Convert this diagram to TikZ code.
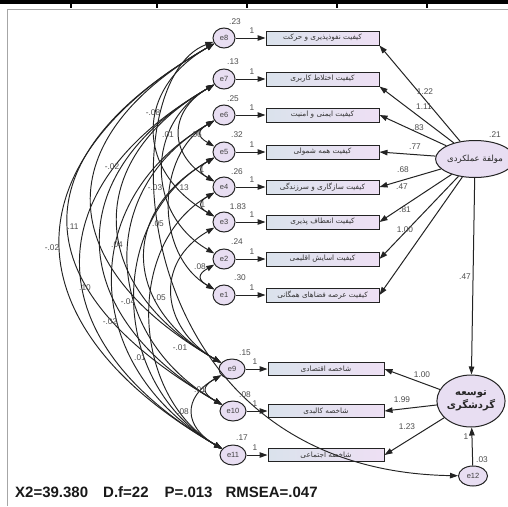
\documentclass[tikz,border=0pt]{standalone}
\usepackage{fontspec}
\setmainfont{Liberation Sans}
\newfontfamily\fa[Script=Arabic]{DejaVu Sans}
\TeXXeTstate=1
\usetikzlibrary{arrows.meta,shapes.geometric}
\definecolor{evfill}{RGB}{232,222,242}
\definecolor{boxL}{RGB}{218,226,236}
\definecolor{boxR}{RGB}{238,224,244}
\definecolor{ink}{RGB}{35,35,35}
\newcommand{\fatxt}[1]{{\fa\beginR #1\endR}}
\begin{document}
\begin{tikzpicture}[x=1pt,y=1pt,
  err/.style={ellipse, draw=ink, fill=evfill, line width=1pt, minimum width=22pt, minimum height=20pt, inner sep=0pt, font=\fontsize{7.5}{8}\selectfont, text=black!75},
  indbox/.style={rectangle, draw=ink, line width=1pt, left color=boxL, right color=boxR, minimum width=113pt, minimum height=14pt, inner sep=0pt, font=\fa\fontsize{7.3}{8}\selectfont, text=black!80},
  lat/.style={ellipse, draw=ink, fill=evfill, line width=1pt, inner sep=0pt, text=black!85},
  lbl/.style={font=\fontsize{8.3}{9}\selectfont, text=black!70, inner sep=0pt},
  arr/.style={-{Triangle[length=8pt,width=5.5pt]}, line width=1pt, draw=ink},
  cov/.style={{Triangle[length=8pt,width=5.5pt]}-{Triangle[length=8pt,width=5.5pt]}, line width=0.95pt, draw=ink}
]
\useasboundingbox (0,0) rectangle (508,-506);
% frame
\fill[black] (0,0) rectangle (508,-3.5);
\foreach \xx in {71,157,247,337,427} {\fill[black] (\xx-1.3,0) rectangle (\xx+1.3,-8);}
\draw[gray!70, line width=0.9pt] (508,-9.5) -- (7,-9.5) -- (7,-506);

% error terms
\node[err] (e8) at (224,-38) {e8};
\node[err] (e7) at (224,-79) {e7};
\node[err] (e6) at (224,-115) {e6};
\node[err] (e5) at (224,-152) {e5};
\node[err] (e4) at (224,-187) {e4};
\node[err] (e3) at (224,-222) {e3};
\node[err] (e2) at (224,-259) {e2};
\node[err] (e1) at (224,-295) {e1};
\node[err, minimum width=26pt] (e9) at (232,-369) {e9};
\node[err, minimum width=26pt] (e10) at (233,-411) {e10};
\node[err, minimum width=26pt] (e11) at (233,-455) {e11};
\node[err, minimum width=29pt] (e12) at (473,-476) {e12};

% indicator boxes
\node[indbox] (b8) at (322.5,-38) {\fatxt{کیفیت نفوذپذیری و حرکت}};
\node[indbox] (b7) at (322.5,-79) {\fatxt{کیفیت اختلاط کاربری}};
\node[indbox] (b6) at (322.5,-115) {\fatxt{کیفیت ایمنی و امنیت}};
\node[indbox] (b5) at (322.5,-152) {\fatxt{کیفیت همه شمولی}};
\node[indbox] (b4) at (322.5,-187) {\fatxt{کیفیت سازگاری و سرزندگی}};
\node[indbox] (b3) at (322.5,-222) {\fatxt{کیفیت انعطاف پذیری}};
\node[indbox] (b2) at (322.5,-259) {\fatxt{کیفیت اسایش اقلیمی}};
\node[indbox] (b1) at (322.5,-295) {\fatxt{کیفیت عرصه فضاهای همگانی}};
\node[indbox, minimum width=116pt, minimum height=13pt] (b9) at (326,-369) {\fatxt{شاخصه اقتصادی}};
\node[indbox, minimum width=116pt, minimum height=13pt] (b10) at (326,-411) {\fatxt{شاخصه کالبدی}};
\node[indbox, minimum width=116pt, minimum height=13pt] (b11) at (326,-455) {\fatxt{شاخصه اجتماعی}};

% latent factors
\node[lat, minimum width=68pt, minimum height=37pt, font=\fa\fontsize{8.5}{9}\selectfont] (F1) at (475,-159) {\fatxt{مولفة عملکردی}};
\node[lat, minimum width=58pt, minimum height=52pt, align=center, font=\fa\bfseries\fontsize{10}{13}\selectfont] (F2) at (471,-401) {\fatxt{توسعه}\\\fatxt{گردشگری}};

% error -> indicator
\foreach \i in {1,...,11} {\draw[arr] (e\i) -- (b\i);}
\draw[arr] (e12) -- (F2);

% loadings
\draw[arr] (F1) -- (b8.south east);
\draw[arr] (F1) -- (b7.south east);
\draw[arr] (F1) -- (b6.east);
\draw[arr] (F1) -- (b5.east);
\draw[arr] (F1) -- (b4.east);
\draw[arr] (F1) -- (b3.east);
\draw[arr] (F1) -- (b2.east);
\draw[arr] (F1) -- (b1.east);
\draw[arr] (F1) -- (F2);
\draw[arr] (F2) -- (b9.east);
\draw[arr] (F2) -- (b10.east);
\draw[arr] (F2) -- (b11.east);

% covariances
\draw[cov] (e8) to[out=210,in=150,looseness=1.53] (e11);
\draw[cov] (e8) to[out=210,in=150,looseness=1.63] (e10);
\draw[cov] (e8) to[out=210,in=150,looseness=1.55] (e9);
\draw[cov] (e7) to[out=210,in=150,looseness=1.48] (e11);
\draw[cov] (e7) to[out=210,in=150,looseness=1.44] (e10);
\draw[cov] (e7) to[out=210,in=150,looseness=1.41] (e9);
\draw[cov] (e6) to[out=210,in=150,looseness=1.26] (e11);
\draw[cov] (e6) to[out=210,in=150,looseness=1.24] (e10);
\draw[cov] (e5) to[out=210,in=150,looseness=1.12] (e11);
\draw[cov] (e5) to[out=210,in=150,looseness=1.39] (e9);
\draw[cov] (e4) to[out=210,in=150,looseness=1.04] (e11);
\draw[cov] (e3) to[out=210,in=150,looseness=1.32] (e9);
\draw[cov] (e8) to[out=210,in=150,looseness=1.36] (e3);
\draw[cov] (e7) to[out=210,in=150,looseness=1.20] (e2);
\draw[cov] (e6) to[out=210,in=150,looseness=1.04] (e1);
\draw[cov] (e7) to[out=210,in=150,looseness=1.41] (e4);
\draw[cov] (e6) to[out=210,in=150,looseness=2] (e5);
\draw[cov] (e5) to[out=210,in=150,looseness=2] (e4);
\draw[cov] (e4) to[out=210,in=150,looseness=2] (e3);
\draw[cov] (e2) to[out=210,in=150,looseness=2] (e1);
\draw[cov] (e9) to[out=210,in=150,looseness=2] (e10);
\draw[cov] (e9) to[out=210,in=150,looseness=1.55] (e11);
\draw[cov] (e8) .. controls (110,-80) and (120,-470) .. (e12);

% variance labels
\node[lbl] (v8) at (235,-22) {.23};
\node[lbl] (v7) at (233,-62) {.13};
\node[lbl] (v6) at (233,-99) {.25};
\node[lbl] (v5) at (237,-135) {.32};
\node[lbl] (v4) at (237,-172) {.26};
\node[lbl] (v3) at (238,-207) {1.83};
\node[lbl] (v2) at (237,-242) {.24};
\node[lbl] (v1) at (240,-278) {.30};
\node[lbl] (v9) at (245,-353) {.15};
\node[lbl] (v10) at (245,-395) {.08};
\node[lbl] (v11) at (242,-438) {.17};
\node[lbl] (v12) at (482,-460) {.03};
\node[lbl] (vF1) at (495,-135) {.21};

% fixed "1" labels
\foreach \i/\yy in {8/38,7/79,6/115,5/152,4/187,3/222,2/259,1/295} {\node[lbl] (one\i) at (252,-\yy+7) {1};}
\foreach \i/\yy in {9/369,10/411,11/455} {\node[lbl] (one\i) at (255,-\yy+7) {1};}
\node[lbl] (one12) at (466,-437) {1};

% loading labels
\node[lbl] (l8) at (425,-92) {1.22};
\node[lbl] (l7) at (424,-107) {1.11};
\node[lbl] (l6) at (418,-128) {.83};
\node[lbl] (l5) at (415,-147) {.77};
\node[lbl] (l4) at (403,-170) {.68};
\node[lbl] (l3) at (402,-187) {.47};
\node[lbl] (l2) at (405,-210) {.81};
\node[lbl] (l1) at (405,-230) {1.00};
\node[lbl] (lF) at (465,-277) {.47};
\node[lbl] (l9) at (422,-375) {1.00};
\node[lbl] (l10) at (402,-400) {1.99};
\node[lbl] (l11) at (407,-427) {1.23};

% covariance labels
\node[lbl] (c1) at (52,-248) {-.02};
\node[lbl] (c2) at (73,-227) {.11};
\node[lbl] (c3) at (85,-288) {.10};
\node[lbl] (c4) at (110,-322) {-.02};
\node[lbl] (c5) at (117,-245) {.04};
\node[lbl] (c6) at (128,-302) {-.04};
\node[lbl] (c7) at (140,-358) {.01};
\node[lbl] (c8) at (180,-348) {-.01};
\node[lbl] (c9) at (160,-298) {.05};
\node[lbl] (c10) at (153,-113) {-.08};
\node[lbl] (c11) at (168,-135) {.01};
\node[lbl] (c12) at (196,-135) {.06};
\node[lbl] (c13) at (112,-167) {-.02};
\node[lbl] (c14) at (155,-188) {-.03};
\node[lbl] (c15) at (183,-188) {.13};
\node[lbl] (c16) at (158,-224) {.05};
\node[lbl] (c17) at (202,-170) {1};
\node[lbl] (c18) at (203,-205) {1};
\node[lbl] (c19) at (200,-267) {.08};
\node[lbl] (c20) at (200,-390) {.01};
\node[lbl] (c21) at (183,-412) {.08};

% fit statistics
\node[font=\bfseries\fontsize{15}{16}\selectfont, anchor=base west, inner sep=0pt, text=black!90] (fit) at (15,-497) {X2=39.380\hspace{15pt}D.f=22\hspace{16pt}P=.013\hspace{13pt}RMSEA=.047};
\end{tikzpicture}
\end{document}
